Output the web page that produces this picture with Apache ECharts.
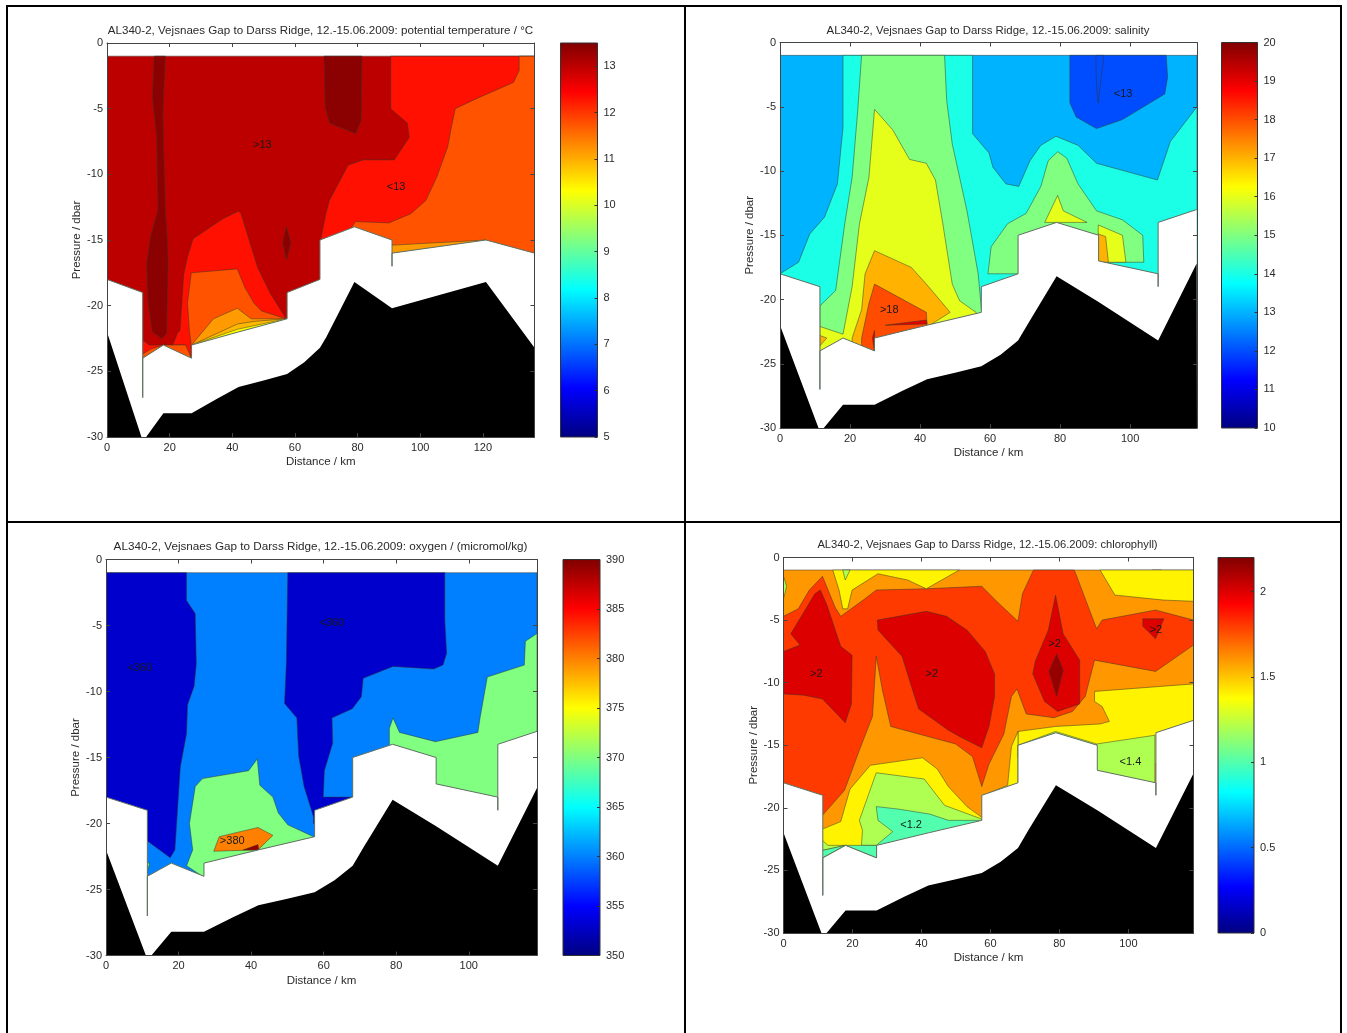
<!DOCTYPE html>
<html>
<head>
<meta charset="utf-8">
<style>html,body{margin:0;padding:0;background:#fff}#c{width:1347px;height:1033px}</style>
<script src="https://cdn.jsdelivr.net/npm/echarts@6/dist/echarts.min.js"></script>
</head>
<body>
<div id="c"></div>
<script>
// ---------- tick labels ----------
const pressureTicks = [0, -5, -10, -15, -20, -25, -30];
const distanceTicksLong = [0, 20, 40, 60, 80, 100, 120];
const distanceTicksShort = [0, 20, 40, 60, 80, 100];
const tempBarTicks = [5, 6, 7, 8, 9, 10, 11, 12, 13];
const salBarTicks = [10, 11, 12, 13, 14, 15, 16, 17, 18, 19, 20];
const oxyBarTicks = [350, 355, 360, 365, 370, 375, 380, 385, 390];
const chlBarTicks = [0, 0.5, 1, 1.5, 2];

// ---------- section bottom (km, dbar) and sea bed ----------
const bottomShort = [[0,-18],[11.4,-19],[11.4,-27],[11.4,-24],[18,-23],[27,-24],[27,-23],[42,-22],[57.5,-21],[57.5,-19],[68,-18],[68,-15],[79,-14],[91,-15],[91,-17],[108,-18],[108,-19],[108,-18],[108,-14],[119,-13]];
const bottomLong = [[0,-18],[11.4,-19],[11.4,-27],[11.4,-24],[18,-23],[27,-24],[27,-23],[42,-22],[57.5,-21],[57.5,-19],[68,-18],[68,-15],[79,-14],[91,-15],[91,-17],[91,-16],[121,-15],[136.5,-16]];
const seabedShort = [[0,-22],[11,-30],[12.5,-30],[18,-28.2],[27,-28.2],[35,-27.1],[42,-26.2],[50,-25.7],[57.5,-25.2],[63,-24.3],[68,-23.2],[71,-21.8],[79,-18.2],[91,-20.2],[108,-23.2],[119,-17.2]];
const seabedLong = [[0,-22],[11,-30],[12.5,-30],[18,-28.2],[27,-28.2],[35,-27.1],[42,-26.2],[50,-25.7],[57.5,-25.2],[63,-24.3],[68,-23.2],[70,-22.4],[79,-18.2],[91,-20.2],[121,-18.2],[136.5,-23.2]];

// ---------- potential temperature ----------
const tempLevels = [13, 12.3, 11.75, 12.3, 13.4, 13.4, 13.4, 11.15, 12.3, 11.75, 11.75, 11.75, 11.15, 10.9, 10.3];
const tempContours = [
  [[0,-1],[136.5,-1],[136.5,-30],[0,-30]],
  [[90.6,-1],[90.6,-5],[95.9,-6.1],[96.5,-7.2],[91.7,-8.9],[81.7,-8.9],[77,-9.3],[71,-12],[69.9,-13],[68.2,-15],[68.2,-30],[136.5,-30],[136.5,-1]],
  [[131.6,-1],[131.6,-2.1],[129.8,-3],[118.3,-4.2],[111.2,-5],[109.8,-6.6],[108.8,-7.9],[105.3,-10.2],[101.8,-12],[97,-13],[90,-13.7],[79.4,-13.6],[78.2,-14],[78.2,-30],[136.5,-30],[136.5,-1]],
  [[57.2,-21],[52.2,-19.1],[48.1,-17.1],[42.8,-13],[42,-12.8],[36.9,-13.4],[27.5,-14.9],[25.7,-16.3],[24.5,-17.6],[23.3,-21.9],[22.5,-22.1],[21,-23],[25.1,-23],[25.1,-30],[57.2,-30]],
  [[15.1,-1],[18.6,-1],[17.8,-5.4],[18.6,-12.7],[19.2,-14.8],[19.5,-16.8],[19,-22.1],[17.5,-22.5],[14.5,-22],[13.1,-19.6],[12.7,-16.8],[13.9,-14.8],[16.3,-12.7],[15.9,-7.2],[14.5,-4.1]],
  [[69.3,-1],[81.4,-1],[81.1,-5.9],[79.4,-6.9],[71.1,-6.1],[69.7,-4.9]],
  [[57.3,-14],[58.7,-15.2],[57.3,-16.5],[56.1,-15.2]],
  [[90.6,-15.4],[121,-15],[90.6,-16.5]],
  [[11.3,-22.6],[13.5,-23],[18,-23],[18,-30],[11.3,-30]],
  [[11.3,-23.7],[14,-23.3],[18,-23],[18,-30],[11.3,-30]],
  [[18,-23],[25.1,-23],[27,-24],[27,-30],[18,-30]],
  [[26.9,-17.5],[41.6,-17.2],[44,-18.6],[46.9,-19.8],[49.3,-20.4],[57.2,-21],[57.2,-30],[26.9,-30],[26.9,-23],[26.3,-21.9],[25.7,-19.8]],
  [[27,-23],[34,-21],[41.6,-20.2],[46,-21],[57.2,-21],[57.2,-30],[27,-30]],
  [[27,-23],[41.6,-21.4],[46.9,-21.2],[57.2,-21],[57.2,-30],[27,-30]],
  [[27,-23],[41.6,-21.8],[57.2,-21],[57.2,-30],[27,-30]]
];
const tempContourOrder = [0,1,2,7,3,8,9,10,11,12,13,14,4,5,6];
const tempLabels = [[49.6,-7.8,'>13'],[92.3,-11,'<13']];

// ---------- salinity ----------
const salLevels = [13, 14, 15, 16, 17, 17, 18, 19, 19, 15, 16, 16, 17, 12, 12];
const salContours = [
  [[0,-1],[119.1,-1],[119.1,-30],[0,-30]],
  [[18,-1],[55,-1],[55,-7.1],[59.7,-8.6],[60.8,-9.7],[64.5,-11],[68.2,-11.2],[71.4,-9.2],[74.5,-8],[78.8,-7.3],[85.1,-8],[90.4,-9.4],[107.8,-10.7],[111.5,-7.7],[119.1,-5],[119.1,-30],[0,-30],[0,-18],[5.3,-17.1],[8.5,-14.9],[12.7,-13.6],[16.4,-11],[18,-6.6]],
  [[23.3,-1],[47,-1],[47.6,-4.5],[49.2,-7.9],[53.4,-13.1],[56.6,-18],[57.6,-21],[57.6,-30],[11.4,-30],[11.4,-20.5],[15.9,-19.3],[18.5,-14.1],[20.6,-10.5],[22.2,-5.3]],
  [[27,-5.2],[32.2,-6.8],[37,-9.1],[41.8,-9.4],[44.4,-10.7],[46.5,-14.1],[49.2,-18.8],[51.3,-20.1],[56,-21],[56,-30],[11.4,-30],[11.4,-22.1],[18,-22.7],[20.6,-19],[22.7,-14.1],[25.4,-10.5]],
  [[27,-16.2],[37.5,-17.5],[41.8,-18.8],[48.6,-21],[42.8,-22],[42.8,-30],[20.6,-30],[20.6,-23],[23.3,-20.8],[24.3,-18]],
  [[11.4,-22.8],[13.4,-23],[11.4,-23.6]],
  [[27,-18.8],[41.8,-21],[42,-22],[42,-30],[23.3,-30],[23.3,-23],[25.4,-20.3]],
  [[30.1,-22],[41.8,-21.6],[42,-21.9]],
  [[26.4,-23],[27,-22.4],[27,-24.1]],
  [[59.4,-18],[60.3,-15.9],[65,-14.1],[70.3,-13.3],[74.5,-11.2],[76.6,-9.2],[79.3,-8.5],[81.9,-9],[85.1,-11],[90.4,-13.1],[97.8,-13.8],[103.6,-15],[103.9,-17.1],[90.9,-17.1],[90.9,-15.1],[79.3,-14.1],[68.2,-15.1],[68.2,-18]],
  [[75.6,-14],[79.3,-11.9],[80.9,-13.1],[87.7,-14],[79.3,-14]],
  [[90.9,-14.2],[97.8,-15],[98.8,-17.1],[90.9,-17.1]],
  [[90.9,-14.9],[93,-15.1],[93.8,-17.1],[90.9,-17.1]],
  [[82.8,-1],[110.3,-1],[110.7,-2.7],[109.9,-4],[97.8,-6],[90.4,-6.7],[84.6,-5.8],[82.8,-4.7]],
  [[90.2,-1],[92.5,-1],[91.4,-3.5],[90.9,-4.7],[90.4,-3.5]]
];
const salLabels = [[31.2,-20.8,'>18'],[98,-4,'<13']];

// ---------- oxygen ----------
const oxyLevels = [360, 353, 353, 370, 370, 370, 380, 389];
const oxyContours = [
  [[0,-1],[118.8,-1],[118.8,-30],[0,-30]],
  [[0,-1],[22.2,-1],[22.2,-3.1],[24.6,-4.1],[24.9,-7.9],[24.3,-9.6],[22.5,-11],[22.2,-13.2],[20.5,-15.7],[19,-22],[17.7,-22.6],[11.3,-21.3],[0,-21.3]],
  [[50.1,-1],[93.4,-1],[93.4,-4.6],[93.9,-7.1],[92.9,-8],[90.3,-8.3],[79.1,-8.1],[70.9,-9],[70.4,-10.4],[67.9,-11.3],[62.3,-12],[62.5,-13.9],[60.2,-16],[59.9,-18],[67.9,-18],[67.9,-19],[57.2,-20],[57.2,-19.5],[54.6,-17.2],[53.1,-14.9],[52.6,-12],[49.2,-10.9],[49.7,-7.9]],
  [[26.6,-16.6],[39.3,-16],[40.4,-15.6],[41.7,-15.1],[42.4,-17.1],[46,-18],[47.5,-19.2],[50.1,-20.1],[57.2,-21],[57.2,-30],[26.6,-30],[26.6,-24],[22.2,-23.2],[23.9,-22],[23,-20],[24.6,-17.2]],
  [[11.3,-23],[12,-23],[11.3,-23.8]],
  [[78.1,-13.9],[78.1,-12.8],[79.1,-12],[80.9,-13.1],[90.8,-13.8],[102.5,-13.1],[103.1,-12],[105.1,-8.9],[115.3,-8],[115.6,-6.2],[118.8,-5.6],[118.8,-30],[78.1,-30]],
  [[31.2,-21],[41.9,-20.3],[46,-20.9],[41.9,-22],[29.7,-22.1]],
  [[37.8,-22],[41.9,-21.6],[42.1,-22]]
];
const oxyLabels = [[9.3,-8.2,'<360'],[62.3,-4.8,'<360'],[34.8,-21.3,'>380']];

// ---------- chlorophyll ----------
const chlLevels = [1.6, 1.8, 1.4, 1.2, 1.2, 1.2, 1.4, 1.4, 1.4, 1.2, 1.2, 1.4, 1.2, 1, 1, 1.2, 1, 2, 2, 2, 2.15, 2];
const chlContours = [
  [[0,-1],[118.9,-1],[118.9,-30],[0,-30]],
  [[0,-4.7],[4.3,-4.1],[7.5,-2.6],[11.3,-1.5],[15,-4],[16.6,-4.7],[23.6,-3.3],[26.9,-2.6],[41.4,-2.5],[57.5,-2.3],[61.8,-3.5],[68,-5.1],[69.3,-2.9],[72.5,-1],[84.3,-1],[84.9,-1.4],[90.8,-5.7],[92.4,-5],[107.9,-4.2],[118.9,-5],[118.9,-7],[107.9,-9.1],[90.2,-8.2],[87.5,-11.1],[83.8,-12.3],[78.4,-12.8],[70.4,-12.5],[67.7,-10.5],[66.1,-11.1],[63.9,-14.1],[59.6,-16.5],[57.5,-18.3],[54.8,-15.9],[49.9,-14.9],[31.1,-13.5],[28.7,-10.6],[26.9,-7.9],[25.8,-12.7],[22,-15.4],[17.7,-18.6],[11.3,-20.6],[0,-20.6]],
  [[14.3,-1],[51,-1],[41.4,-2.5],[36,-1.8],[27.4,-1.3],[19.9,-2.6],[18.6,-4.1],[17.2,-4.1],[16.1,-2.6]],
  [[17.2,-1],[19.3,-1],[17.9,-1.8]],
  [[0,-1.5],[0.9,-2.3],[0,-3.3]],
  [[106.9,-1],[109.6,-1],[108.2,-1.2]],
  [[91.8,-1],[118.9,-1],[118.9,-3.5],[110.1,-3.4],[96.1,-3]],
  [[90.2,-10.7],[118.9,-10.1],[118.9,-16.5],[68,-16.5],[68,-13.9],[78.9,-13.5],[91.8,-13.3],[94.5,-13.1],[92.4,-11.9],[90.2,-11.5]],
  [[68,-13.9],[66.1,-15.1],[65,-18.2],[57.8,-19],[57.8,-21.8],[68,-21.8]],
  [[68,-15],[78.9,-13.9],[90.8,-14.9],[90.8,-16],[68,-16]],
  [[90.8,-14.9],[107.7,-14.2],[107.7,-18.5],[90.8,-17.5]],
  [[11.3,-21.7],[16.6,-21.1],[19.3,-18.5],[25.2,-16.6],[40.3,-16],[44.6,-16.9],[47.8,-18.3],[53.2,-19.9],[57.7,-20.8],[57.7,-24.5],[11.3,-24.5]],
  [[26.9,-17.2],[40.8,-17.7],[46.7,-19.8],[57.5,-20.9],[57.5,-24.5],[26.9,-24.5],[26.9,-23],[22.6,-23],[22.9,-21.8],[22,-21]],
  [[26.9,-19.9],[33.3,-20.1],[42.4,-20.5],[47.8,-21],[57.5,-21],[57.5,-24.5],[26.9,-24.5],[26.9,-23],[31.7,-21.9],[27.4,-21]],
  [[18,-23],[27,-24],[27,-23]],
  [[11.3,-22.6],[12.9,-23],[18,-23],[11.3,-23.4]],
  [[11.3,-23.4],[18,-23],[11.3,-24]],
  [[0,-7.5],[4.8,-7],[2.1,-6.1],[9.1,-2.9],[10.7,-2.6],[12.6,-3.8],[16.6,-7.1],[19.9,-7.8],[19.7,-11.7],[17.9,-13.2],[11.3,-11.3],[5.9,-11],[0,-10.9]],
  [[27.2,-5],[41.4,-4.3],[47.3,-4.7],[53.2,-5.8],[58.5,-7.5],[61.2,-9.3],[61.2,-11.1],[59.6,-13.5],[57.5,-15.2],[51,-14.3],[47.8,-13.8],[39.2,-12.1],[37.1,-10.3],[34.4,-7.9],[27.4,-5.8]],
  [[78.9,-3],[81.1,-6.1],[85.9,-8.2],[85.9,-11.7],[81.6,-12.1],[79.5,-12.3],[75.7,-11.5],[72.3,-9.3],[73,-8.3],[76.8,-5.8]],
  [[79.2,-7.7],[81.1,-9],[79.2,-11.1],[77,-9.1]],
  [[104.2,-4.9],[110.3,-4.9],[107.9,-6.5],[104.2,-5.5]]
];
const chlLabels = [[9.5,-9.3,'>2'],[43,-9.3,'>2'],[78.6,-6.9,'>2'],[108,-5.8,'>2'],[100.6,-16.3,'<1.4'],[37,-21.4,'<1.2']];

// ---------- drawing helpers ----------
const FONT = '"Liberation Sans", Arial, sans-serif';
const INK = '#2a2a2a';
function clamp01(v) { return Math.max(0, Math.min(1, v)); }
function jetAt(t) {
  const r = clamp01(1.5 - Math.abs(4 * t - 3));
  const g = clamp01(1.5 - Math.abs(4 * t - 2));
  const b = clamp01(1.5 - Math.abs(4 * t - 1));
  const h = v => Math.round(v * 255).toString(16).padStart(2, '0');
  return '#' + h(r) + h(g) + h(b);
}
const jetStops = [];
for (let i = 0; i <= 32; i++) jetStops.push({ offset: i / 32, color: jetAt(1 - i / 32) });

const option = { animation: false, backgroundColor: '#fff', grid: [], xAxis: [], yAxis: [], series: [], title: [],
  graphic: [
    { type: 'rect', silent: true, shape: { x: 6, y: 5, width: 2, height: 1028 }, style: { fill: '#000' } },
    { type: 'rect', silent: true, shape: { x: 6, y: 5, width: 1336, height: 2 }, style: { fill: '#000' } },
    { type: 'rect', silent: true, shape: { x: 1340, y: 5, width: 2, height: 1028 }, style: { fill: '#000' } },
    { type: 'rect', silent: true, shape: { x: 684, y: 5, width: 2, height: 1028 }, style: { fill: '#000' } },
    { type: 'rect', silent: true, shape: { x: 6, y: 521, width: 1336, height: 2 }, style: { fill: '#000' } }
  ]
};

function addPanel(p) {
  const base = option.grid.length;
  const lab = { color: INK, fontFamily: FONT, fontSize: 11, margin: 4 };
  const tick = { show: true, inside: true, length: 4, lineStyle: { color: '#444', width: 1 } };
  const line = { show: true, onZero: false, lineStyle: { color: '#444', width: 1 } };

  option.grid.push({ left: p.x, top: p.y, width: p.w, height: p.h });
  option.title.push({ text: p.title, left: p.titleX, top: p.titleY, textAlign: 'center', padding: 0,
    textStyle: { fontFamily: FONT, fontSize: p.titleSize, fontWeight: 'normal', color: INK } });
  const xt = { customValues: p.xTicks };
  const yt = { customValues: pressureTicks };
  option.xAxis.push(
    { type: 'value', gridIndex: base, min: 0, max: p.xMax, position: 'bottom', splitLine: { show: false },
      axisLine: line, axisTick: Object.assign({}, tick, xt), axisLabel: Object.assign({}, lab, xt, { margin: 5 }),
      name: 'Distance / km', nameLocation: 'middle', nameGap: 19, nameTextStyle: { color: INK, fontFamily: FONT, fontSize: 11.5 }, z: 5 },
    { type: 'value', gridIndex: base, min: 0, max: p.xMax, position: 'top', splitLine: { show: false },
      axisLine: line, axisTick: Object.assign({}, tick, xt), axisLabel: { show: false }, z: 5 });
  option.yAxis.push(
    { type: 'value', gridIndex: base, min: -30, max: 0, position: 'left', splitLine: { show: false },
      axisLine: line, axisTick: Object.assign({}, tick, yt), axisLabel: Object.assign({}, lab, yt),
      name: 'Pressure / dbar', nameLocation: 'middle', nameGap: 19, nameRotate: 90, nameTextStyle: { color: INK, fontFamily: FONT, fontSize: 11.5 }, z: 5 },
    { type: 'value', gridIndex: base, min: -30, max: 0, position: 'right', splitLine: { show: false },
      axisLine: line, axisTick: Object.assign({}, tick, yt), axisLabel: { show: false }, z: 5 });

  const xi = option.xAxis.length - 2, yi = option.yAxis.length - 2;
  const onAxes = { type: 'custom', coordinateSystem: 'cartesian2d', xAxisIndex: xi, yAxisIndex: yi, clip: true, silent: true, progressive: 0, animation: false };
  const poly = (api, pts, style) => ({ type: 'polygon', shape: { points: pts.map(q => api.coord(q)) }, style, silent: true });

  // filled contour levels, painted in order
  option.series.push(Object.assign({}, onAxes, { z: 1,
    data: p.order.map(i => [i]),
    renderItem: (params, api) => {
      const i = api.value(0);
      return poly(api, p.contours[i], { fill: jetAt(clamp01((p.levels[i] - p.barMin) / (p.barMax - p.barMin))), stroke: 'rgba(50,55,40,0.55)', lineWidth: 0.9 });
    }, encode: { x: [], y: [] } }));
  // white below the section, then sea bed
  const maskPts = p.bottom.concat([[p.xMax, -31], [0, -31]]);
  option.series.push(Object.assign({}, onAxes, { z: 2, data: [[0]], encode: { x: [], y: [] },
    renderItem: (params, api) => poly(api, maskPts, { fill: '#fff', stroke: 'none' }) }));
  option.series.push(Object.assign({}, onAxes, { type: 'line', z: 3, data: p.bottom, showSymbol: false, symbol: 'none',
    lineStyle: { color: '#5f6f60', width: 1 } }));
  const bedPts = p.seabed.concat([[p.xMax, -31], [0, -31]]);
  option.series.push(Object.assign({}, onAxes, { z: 4, data: [[0]], encode: { x: [], y: [] },
    renderItem: (params, api) => poly(api, bedPts, { fill: '#000', stroke: 'none' }) }));
  // contour labels
  option.series.push(Object.assign({}, onAxes, { z: 4, data: p.labels.map((l, i) => [l[0], l[1], i]), encode: { x: 0, y: 1 },
    renderItem: (params, api) => {
      const c = api.coord([api.value(0), api.value(1)]);
      return { type: 'text', silent: true, style: { text: p.labels[api.value(2)][2], x: c[0], y: c[1], align: 'center', verticalAlign: 'middle', fill: '#1a1a1a', font: '11px ' + FONT } };
    } }));

  // colour bar
  const bi = option.grid.length;
  option.grid.push({ left: p.barX, top: p.y, width: p.barW, height: p.h });
  const bt = { customValues: p.barTicks };
  option.xAxis.push({ type: 'value', gridIndex: bi, min: 0, max: 1, show: false });
  option.yAxis.push({ type: 'value', gridIndex: bi, min: p.barMin, max: p.barMax, position: 'right', splitLine: { show: false },
    axisLine: { show: false, onZero: false }, axisTick: Object.assign({}, tick, bt, { length: 3, lineStyle: { color: '#333', width: 1 } }),
    axisLabel: Object.assign({}, lab, bt, { margin: 6 }), z: 5 });
  const bxi = option.xAxis.length - 1, byi = option.yAxis.length - 1;
  option.series.push({ type: 'custom', coordinateSystem: 'cartesian2d', xAxisIndex: bxi, yAxisIndex: byi, silent: true, z: 1,
    data: [[0, p.barMin]], encode: { x: 0, y: 1 },
    renderItem: (params, api) => {
      const a = api.coord([0, p.barMax]), b = api.coord([1, p.barMin]);
      return { type: 'rect', silent: true, shape: { x: a[0], y: a[1], width: b[0] - a[0], height: b[1] - a[1] },
        style: { fill: { type: 'linear', x: 0, y: 0, x2: 0, y2: 1, colorStops: jetStops }, stroke: '#333', lineWidth: 1 } };
    } });
}

addPanel({ x: 107, y: 43, w: 427.5, h: 394, xMax: 136.5, xTicks: distanceTicksLong,
  title: 'AL340-2, Vejsnaes Gap to Darss Ridge, 12.-15.06.2009: potential temperature / °C', titleX: 320.5, titleY: 25, titleSize: 11.6,
  levels: tempLevels, contours: tempContours, order: tempContourOrder, labels: tempLabels, bottom: bottomLong, seabed: seabedLong,
  barX: 560.5, barW: 37, barMin: 5, barMax: 13.5, barTicks: tempBarTicks });
addPanel({ x: 780, y: 42.5, w: 417, h: 385.5, xMax: 119.1, xTicks: distanceTicksShort,
  title: 'AL340-2, Vejsnaes Gap to Darss Ridge, 12.-15.06.2009: salinity', titleX: 988, titleY: 25, titleSize: 11.4,
  levels: salLevels, contours: salContours, order: salContours.map((_, i) => i), labels: salLabels, bottom: bottomShort, seabed: seabedShort,
  barX: 1221.5, barW: 36, barMin: 10, barMax: 20, barTicks: salBarTicks });
addPanel({ x: 106, y: 559.5, w: 431, h: 396, xMax: 118.8, xTicks: distanceTicksShort,
  title: 'AL340-2, Vejsnaes Gap to Darss Ridge, 12.-15.06.2009: oxygen / (micromol/kg)', titleX: 320.5, titleY: 541, titleSize: 11.7,
  levels: oxyLevels, contours: oxyContours, order: oxyContours.map((_, i) => i), labels: oxyLabels, bottom: bottomShort, seabed: seabedShort,
  barX: 563, barW: 37, barMin: 350, barMax: 390, barTicks: oxyBarTicks });
addPanel({ x: 783.5, y: 557.5, w: 410, h: 375.5, xMax: 118.9, xTicks: distanceTicksShort,
  title: 'AL340-2, Vejsnaes Gap to Darss Ridge, 12.-15.06.2009: chlorophyll)', titleX: 987.5, titleY: 539, titleSize: 11.2,
  levels: chlLevels, contours: chlContours, order: chlContours.map((_, i) => i), labels: chlLabels, bottom: bottomShort, seabed: seabedShort,
  barX: 1218, barW: 36, barMin: 0, barMax: 2.2, barTicks: chlBarTicks });

echarts.init(document.getElementById('c'), null, { renderer: 'canvas' }).setOption(option);
</script>
</body>
</html>
